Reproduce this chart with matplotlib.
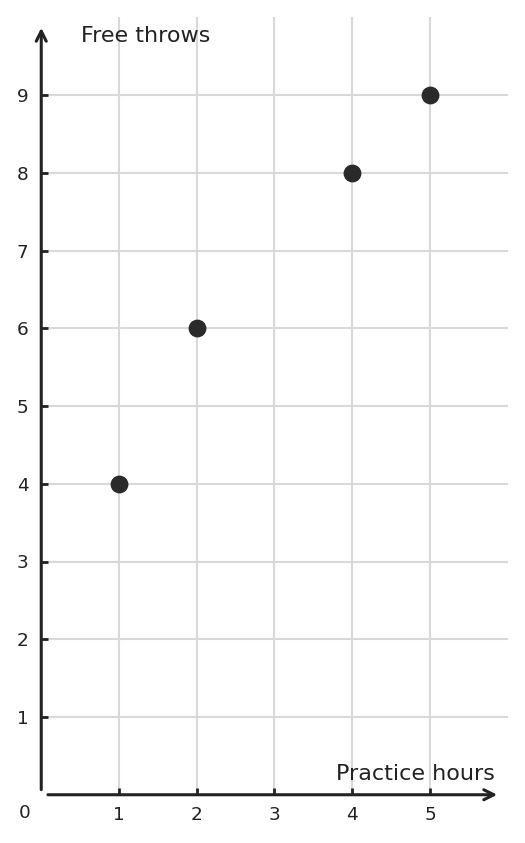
import matplotlib
matplotlib.use("Agg")
import matplotlib.pyplot as plt

hours = [1, 2, 4, 5]
throws = [4, 6, 8, 9]
x_ticks = [1, 2, 3, 4, 5]
y_ticks = [1, 2, 3, 4, 5, 6, 7, 8, 9]
x_label = "Practice hours"
y_label = "Free throws"

dark = "#222222"
grid = "#d9d9d9"

fig = plt.figure(figsize=(5.25, 8.43), dpi=100)
ax = fig.add_axes([41.25/525, (843-794.75)/843, 466.5/525, 777.5/843])
ax.set_xlim(0, 6)
ax.set_ylim(0, 10)
for s in ax.spines.values():
    s.set_visible(False)

for xv in x_ticks:
    ax.axvline(xv, color=grid, lw=1.5, zorder=0)
for yv in y_ticks:
    ax.axhline(yv, xmin=0.008, color=grid, lw=1.5, zorder=0)

ax.annotate("", xy=(0, 9.9), xytext=(0, 0.03),
            arrowprops=dict(arrowstyle="->", color=dark, lw=2.2, mutation_scale=18), annotation_clip=False)
ax.annotate("", xy=(5.9, 0), xytext=(0.05, 0),
            arrowprops=dict(arrowstyle="->", color=dark, lw=2.2, mutation_scale=18), annotation_clip=False)

ax.set_xticks(x_ticks)
ax.set_yticks(y_ticks)
ax.tick_params(axis="both", direction="in", length=5, width=2, color=dark,
               labelsize=13.3, labelcolor=dark)
ax.tick_params(axis="x", pad=8)
ax.tick_params(axis="y", pad=9)
ax.text(-0.22, -0.24, "0", ha="center", va="center", fontsize=13.3, color=dark)

ax.scatter(hours, throws, s=140, color="#2a2a2a", zorder=3)

ax.text(0.51, 9.76, y_label, ha="left", va="center", fontsize=16, color=dark)
ax.text(5.83, 0.27, x_label, ha="right", va="center", fontsize=16, color=dark)

fig.savefig("out.png", dpi=100)
